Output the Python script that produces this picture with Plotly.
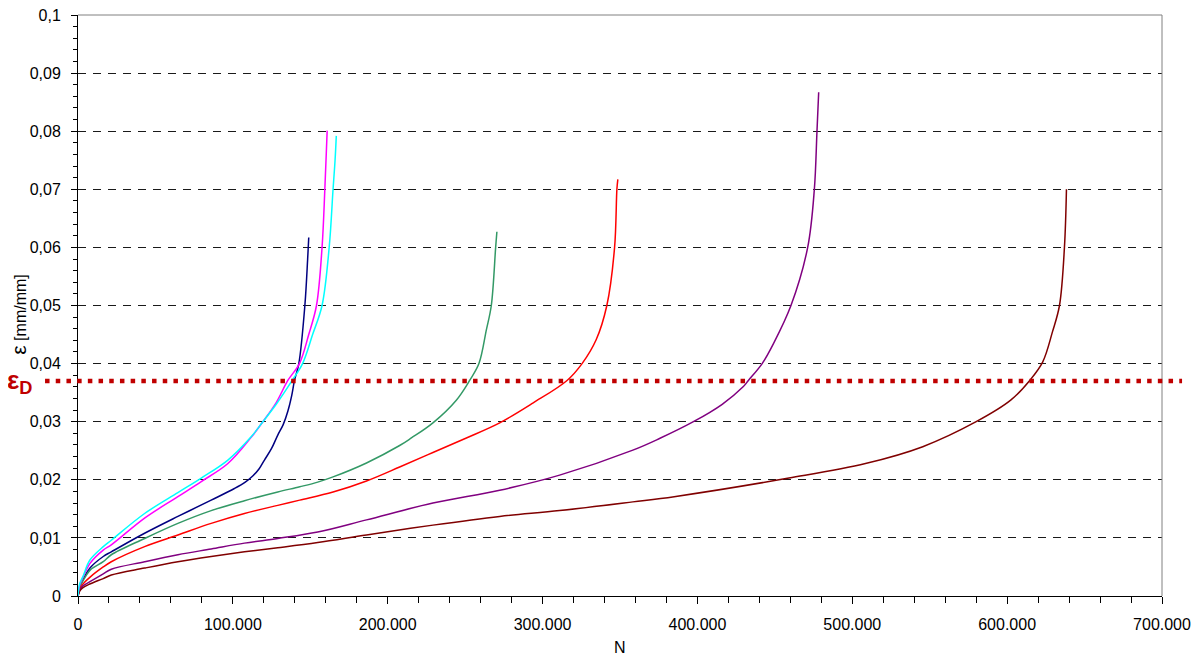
import plotly.graph_objects as go

# ---------------- data (cycles N, strain eps) ----------------
navy_x = [0, 1000, 3000, 8000, 16300, 21500, 43000, 64500, 86000, 101000, 108000, 113000, 117000,
          120400, 125000, 129000, 132500, 135500, 138000, 139800, 142600, 146500, 148300, 149000]
navy_y = [0, 0.0015, 0.0027, 0.0049, 0.0068, 0.0076, 0.0108, 0.0137, 0.0165, 0.0185, 0.0196, 0.0207, 0.0219,
          0.0234, 0.0254, 0.0277, 0.0295, 0.0318, 0.0345, 0.0371, 0.0400, 0.0500, 0.0580, 0.0617]

magenta_x = [0, 1000, 3000, 8000, 16300, 21500, 43000, 64500, 79600, 96800, 111800, 119400,
             128000, 135500, 143000, 149000, 154000, 157600, 159400, 160300, 160900]
magenta_y = [0, 0.0018, 0.0031, 0.0057, 0.0079, 0.0088, 0.0134, 0.0171, 0.0197, 0.0228, 0.0273, 0.0300,
             0.0333, 0.0371, 0.0400, 0.0450, 0.0500, 0.0600, 0.0700, 0.0760, 0.0801]

cyan_x = [0, 1000, 3400, 7700, 16300, 21500, 43000, 64500, 79600, 96800, 111800, 119400,
          128000, 138300, 145000, 151500, 157600, 162200, 164700, 166000, 166800]
cyan_y = [0, 0.0020, 0.0035, 0.0062, 0.0085, 0.0096, 0.0142, 0.0178, 0.0203, 0.0234, 0.0274, 0.0300,
          0.0330, 0.0371, 0.0400, 0.0450, 0.0500, 0.0600, 0.0700, 0.0750, 0.0792]

green_x = [0, 1000, 3000, 8000, 16300, 21500, 43000, 64500, 86000, 107500, 129000, 143200, 154800,
           164700, 186300, 207700, 215300, 229200, 244300, 252900, 258900, 263700, 266900, 269700, 270500]
green_y = [0, 0.0013, 0.0025, 0.0045, 0.0059, 0.0071, 0.0099, 0.0125, 0.0147, 0.0164, 0.0179, 0.0188, 0.0196,
           0.0205, 0.0229, 0.0259, 0.0272, 0.0298, 0.0337, 0.0371, 0.0400, 0.0458, 0.0500, 0.0600, 0.0627]

red_x = [0, 1000, 3000, 8000, 16300, 21500, 43000, 64500, 86000, 107500, 129000, 143200, 164700,
         186300, 207700, 229200, 250800, 272300, 293700, 315800, 325500, 334600, 341500, 346500, 348000, 348600]
red_y = [0, 0.0011, 0.0020, 0.0033, 0.0050, 0.0059, 0.0085, 0.0105, 0.0125, 0.0142, 0.0156, 0.0165, 0.0179,
         0.0198, 0.0222, 0.0247, 0.0272, 0.0298, 0.0332, 0.0371, 0.0400, 0.0441, 0.0500, 0.0600, 0.0700, 0.0717]

purple_x = [0, 1000, 3000, 8000, 16300, 21500, 43000, 64500, 86000, 107500, 129000, 154800, 186300,
            229200, 272300, 311000, 358300, 375500, 397400, 416000, 429500, 432900, 441800, 449200,
            460400, 471200, 475500, 477200, 478300]
purple_y = [0, 0.0009, 0.0017, 0.0025, 0.0038, 0.0046, 0.0059, 0.0071, 0.0081, 0.0091, 0.0099, 0.0110, 0.0131,
            0.0160, 0.0182, 0.0208, 0.0251, 0.0271, 0.0300, 0.0330, 0.0360, 0.0371, 0.0400, 0.0435,
            0.0500, 0.0600, 0.0700, 0.0800, 0.0867]

maroon_x = [0, 1000, 3000, 8000, 16300, 21500, 43000, 64500, 86000, 107500, 129000, 154800, 186300,
            229200, 272300, 311000, 358300, 385000, 459100, 508500, 545500, 580000, 602300, 614600,
            623000, 629300, 633800, 637000, 638300]
maroon_y = [0, 0.0008, 0.0014, 0.0021, 0.0030, 0.0036, 0.0048, 0.0059, 0.0068, 0.0076, 0.0083, 0.0092, 0.0105,
            0.0122, 0.0137, 0.0147, 0.0162, 0.0171, 0.0203, 0.0228, 0.0257, 0.0300, 0.0337, 0.0371,
            0.0403, 0.0455, 0.0500, 0.0600, 0.0700]

series = [
    ("navy", navy_x, navy_y, "#000080"),
    ("green", green_x, green_y, "#339966"),
    ("red", red_x, red_y, "#FF0000"),
    ("purple", purple_x, purple_y, "#800080"),
    ("maroon", maroon_x, maroon_y, "#800000"),
    ("magenta", magenta_x, magenta_y, "#FF00FF"),
    ("cyan", cyan_x, cyan_y, "#00FFFF"),
]

eps_d = 0.037

x_tickvals = [0, 100000, 200000, 300000, 400000, 500000, 600000, 700000]
x_ticktext = ["0", "100.000", "200.000", "300.000", "400.000", "500.000", "600.000", "700.000"]
y_tickvals = [0, 0.01, 0.02, 0.03, 0.04, 0.05, 0.06, 0.07, 0.08, 0.09, 0.1]
y_ticktext = ["0", "0,01", "0,02", "0,03", "0,04", "0,05", "0,06", "0,07", "0,08", "0,09", "0,1"]

FONT = "Liberation Sans, Arial, sans-serif"

fig = go.Figure()
for name, xs, ys, col in series:
    fig.add_trace(go.Scatter(x=xs, y=ys, mode="lines", name=name,
                             line=dict(color=col, width=1.5, shape="spline", smoothing=1.0),
                             hoverinfo="skip"))

# page body has an 8px margin, so the figure is shrunk by 8px to keep the plot area in place
fig.update_layout(
    width=1194, height=653,
    margin=dict(l=70, r=40, t=7, b=65, autoexpand=False),
    paper_bgcolor="white", plot_bgcolor="white",
    showlegend=False,
    font=dict(family=FONT, size=16, color="black"),
)

fig.update_xaxes(
    range=[0, 700000], tickmode="array", tickvals=x_tickvals, ticktext=x_ticktext,
    showline=True, linecolor="black", linewidth=1, zeroline=False, showgrid=False,
    ticks="outside", ticklen=7, tickcolor="black", tickwidth=1,
    minor=dict(tickmode="linear", tick0=0, dtick=20000, ticks="outside", ticklen=6,
               tickcolor="black", tickwidth=1, showgrid=False),
    ticklabelstandoff=7, automargin=False, ticklabeloverflow="allow",
    tickfont=dict(family=FONT, size=16),
)
fig.update_yaxes(
    range=[0, 0.1], tickmode="array", tickvals=y_tickvals, ticktext=y_ticktext,
    showline=True, linecolor="black", linewidth=1, zeroline=False,
    showgrid=True, gridcolor="#1a1a1a", gridwidth=1, griddash="8px,7px",
    ticks="outside", ticklen=6, tickcolor="black", tickwidth=1,
    minor=dict(tickmode="linear", tick0=0, dtick=0.002, ticks="outside", ticklen=4,
               tickcolor="black", tickwidth=1, showgrid=False),
    ticklabelstandoff=7, automargin=False, ticklabeloverflow="allow",
    tickfont=dict(family=FONT, size=16),
)

# top and right gray frame
fig.add_shape(type="line", xref="paper", yref="paper", x0=0, x1=1, y0=1, y1=1,
              line=dict(color="#808080", width=1))
fig.add_shape(type="line", xref="paper", yref="paper", x0=1, x1=1, y0=0, y1=1,
              line=dict(color="#808080", width=1))

# epsilon_D dotted line
fig.add_shape(type="line", xref="paper", yref="y", x0=-0.0304, x1=1.0185, y0=eps_d, y1=eps_d,
              line=dict(color="#C00000", width=4.5, dash="4.5px,6.2px"))

fig.add_annotation(text="ε<sub>D</sub>", xref="paper", yref="y", x=-0.067, y=eps_d,
                   xanchor="left", yanchor="middle", showarrow=False,
                   font=dict(family=FONT, size=26, color="#C00000", weight="bold"))

# axis titles
fig.add_annotation(text="<span style='font-size:21px'>ε</span> [mm/mm]", xref="paper", yref="paper",
                   x=-0.0545, y=0.484,
                   textangle=-90, showarrow=False, xanchor="center", yanchor="middle",
                   font=dict(family=FONT, size=16))
fig.add_annotation(text="N", xref="paper", yref="paper", x=0.5, y=-0.0895,
                   showarrow=False, xanchor="center", yanchor="middle",
                   font=dict(family=FONT, size=16))

fig.write_html("out.html")
